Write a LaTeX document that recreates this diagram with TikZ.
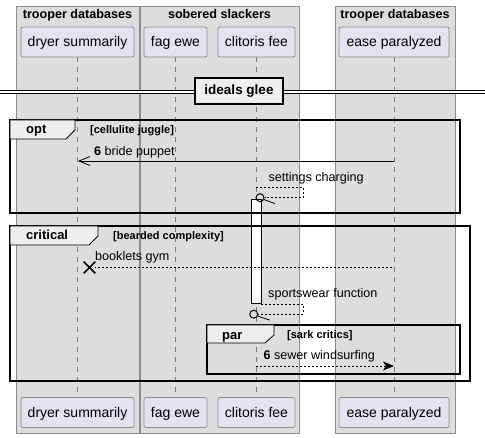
\documentclass[tikz,border=0pt]{standalone}
\usepackage{fontspec}
\setmainfont{Liberation Sans}
\usetikzlibrary{arrows.meta}
\usetikzlibrary{shapes.misc}

\definecolor{groupgray}{HTML}{DDDDDD}
\definecolor{groupline}{HTML}{8C8C8C}
\definecolor{partfill}{HTML}{E2E2F0}
\definecolor{partline}{HTML}{8C8C8C}
\definecolor{tabgray}{HTML}{EEEEEE}
\definecolor{lifegray}{HTML}{7A7A7A}

\begin{document}
\begin{tikzpicture}[x=1pt, y=-1pt,
    groupbox/.style={draw=groupline, fill=groupgray, line width=0.8pt},
    grouptitle/.style={font=\fontsize{12.6}{14}\selectfont\bfseries, inner sep=0pt, anchor=base},
    partbox/.style={draw=partline, fill=partfill, rounded corners=2pt, line width=0.8pt,
      minimum height=30pt, inner sep=0pt, text height=10pt, text depth=0pt,
      font=\fontsize{14}{16}\selectfont},
    lifeline/.style={draw=lifegray, dash pattern=on 5pt off 5pt, line width=0.7pt},
    frameline/.style={draw=black, line width=1.5pt},
    tabshape/.style={draw=black, fill=tabgray, line width=0.8pt},
    tabtext/.style={font=\fontsize{13}{15}\selectfont\bfseries, inner sep=0pt, anchor=base west},
    guardtext/.style={font=\fontsize{11}{13}\selectfont\bfseries, inner sep=0pt, anchor=base west},
    msgtext/.style={font=\fontsize{12.6}{14}\selectfont, inner sep=0pt, anchor=base west},
    msgline/.style={draw=black, line width=0.8pt},
    replyline/.style={msgline, dash pattern=on 2pt off 2pt},
    endcircle/.style={circle, draw=black, line width=1pt, minimum size=8pt, inner sep=0pt},
  ]
      \useasboundingbox (0,0) rectangle (485,438);

      % boxes round the participants
      \draw [groupbox] (16,6) rectangle (139,433);
      \draw [groupbox] (140,6) rectangle (299,433);
      \draw [groupbox] (335,6) rectangle (455,433);

      \node at (77.5,18.5) [grouptitle, name=troopertitleA] {trooper databases};
      \node at (219.5,18.5) [grouptitle, name=soberedtitle] {sobered slackers};
      \node at (395,18.5) [grouptitle, name=troopertitleB] {trooper databases};

      % participants, top and bottom
      \node at (77.5,42) [partbox, minimum width=113pt, name=dryertop] {dryer summarily};
      \node at (175.5,42) [partbox, minimum width=63pt, name=fagtop] {fag ewe};
      \node at (256.5,42) [partbox, minimum width=77pt, name=clitoristop] {clitoris fee};
      \node at (394,42) [partbox, minimum width=110pt, name=easetop] {ease paralyzed};

      \node at (77.5,412.5) [partbox, minimum width=113pt, name=dryerbot] {dryer summarily};
      \node at (175.5,412.5) [partbox, minimum width=63pt, name=fagbot] {fag ewe};
      \node at (256.5,412.5) [partbox, minimum width=77pt, name=clitorisbot] {clitoris fee};
      \node at (394,412.5) [partbox, minimum width=110pt, name=easebot] {ease paralyzed};

      \draw [lifeline] (dryertop) -- (dryerbot);
      \draw [lifeline] (fagtop) -- (fagbot);
      \draw [lifeline] (clitoristop) -- (clitorisbot);
      \draw [lifeline] (easetop) -- (easebot);

      % divider
      \draw [black, line width=0.8pt, double, double distance=2.2pt] (0,91.7) -- (485,91.7);
      \node at (239,91) [draw=black, line width=1.4pt, fill=tabgray, minimum width=88pt,
      minimum height=26pt, inner sep=0pt, font=\fontsize{13.5}{15}\selectfont\bfseries,
      name=divider] {ideals glee};

      % activation
      \node at (256.3,251) [draw=black, fill=white, line width=0.8pt, minimum width=9.5pt,
      minimum height=104pt, inner sep=0pt, name=actbar] {};

      % opt
      \draw [frameline] (10,120) rectangle (460,213);
      \draw [tabshape] (10,120) -- (75,120) -- (75,130) -- (66,139) -- (10,139) -- cycle;
      \node at (26,133.5) [tabtext, name=opttab] {opt};
      \node at (90,134) [guardtext, name=optguard] {[cellulite juggle]};

      \coordinate (puppetfrom) at (394,161);
      \coordinate (puppetto) at (78,161);
      \draw [msgline, -{Straight Barb[length=11pt, width=9pt, line width=0.8pt]}]
      (puppetfrom) -- (puppetto);
      \node at (94,156) [msgtext, name=puppetlabel] {\textbf{6} bride puppet};

      \coordinate (chargefrom) at (256,187);
      \node at (260,197.7) [endcircle, name=chargeend] {};
      \draw [replyline] (chargefrom) -- ++(47,0) |- (chargeend);
      \draw [msgline] (chargeend.-25) -- ++(11,4);
      \node at (268.3,182) [msgtext, name=chargelabel] {settings charging};

      % critical
      \draw [frameline] (10,226) rectangle (470,381);
      \draw [tabshape] (10,226) -- (98,226) -- (98,236) -- (89,245) -- (10,245) -- cycle;
      \node at (26,240) [tabtext, name=criticaltab] {critical};
      \node at (113,240) [guardtext, name=criticalguard] {[bearded complexity]};

      \coordinate (gymfrom) at (392,267.5);
      \node at (89.5,267.5) [cross out, draw=black, line width=1.6pt, minimum size=10pt,
      inner sep=0pt, name=gymkill] {};
      \draw [replyline] (gymfrom) -- (gymkill);
      \node at (95,261) [msgtext, name=gymlabel] {booklets gym};

      \node at (253.7,314.2) [endcircle, name=sportend] {};
      \draw [replyline] (actbar.south east) ++(0,1) -- ++(42,0) |- (sportend);
      \draw [msgline] (sportend.-25) -- ++(12,4);
      \node at (268,297.3) [msgtext, name=sportlabel] {sportswear function};

      % par
      \draw [frameline] (207,325) rectangle (460,374);
      \draw [tabshape] (207,325) -- (274,325) -- (274,335) -- (265,343) -- (207,343) -- cycle;
      \node at (222,339.3) [tabtext, name=partab] {par};
      \node at (287,338.3) [guardtext, name=parguard] {[sark critics]};

      \coordinate (sewerfrom) at (256,366);
      \coordinate (sewerto) at (394,366);
      \draw [replyline, -{Stealth[length=11pt, width=9pt, inset=3pt]}] (sewerfrom) -- (sewerto);
      \node at (263.3,359.3) [msgtext, name=sewerlabel] {\textbf{6} sewer windsurfing};
\end{tikzpicture}
\end{document}
